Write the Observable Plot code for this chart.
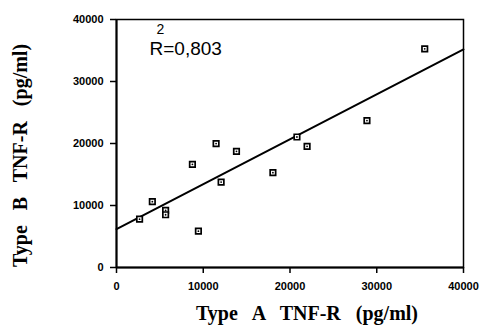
<!DOCTYPE html>
<html>
<head>
<meta charset="utf-8">
<script src="https://cdn.jsdelivr.net/npm/d3@7"></script>
<script src="https://cdn.jsdelivr.net/npm/@observablehq/plot@0.6"></script>
<style>
  html, body { margin: 0; padding: 0; background: #fff; }
  #chart svg { display: block; }
</style>
</head>
<body>
<div id="chart"></div>
<script>
// Data
const typeA = [2660, 4130, 5660, 5660, 8750, 9440, 11480, 12060, 13830, 18030, 20800, 21970, 28870, 35530];
const typeB = [7800, 10610, 9200, 8510, 16640, 5860, 19980, 13780, 18740, 15300, 21050, 19550, 23700, 35270];
const fitX = [0, 40000];
const fitY = [6190, 35170];
const xTicks = [0, 10000, 20000, 30000, 40000];
const yTicks = [0, 10000, 20000, 30000, 40000];
const rSquared = "0,803";
const xTitle = "Type   A   TNF-R   (pg/ml)";
const yTitle = "Type   B   TNF-R   (pg/ml)";

const points = typeA.map((a, i) => ({a, b: typeB[i]}));
const fit = fitX.map((x, i) => ({x, y: fitY[i]}));

const serif = "'Liberation Serif', 'DejaVu Serif', serif";
const sans = "'Liberation Sans', Arial, sans-serif";

const chart = Plot.plot({
  width: 488,
  height: 336,
  marginLeft: 116,
  marginRight: 25,
  marginTop: 19,
  marginBottom: 69,
  style: {background: "#fff", color: "#000", fontFamily: sans},
  x: {domain: [0, 40000], ticks: xTicks, tickFormat: d3.format("d"), label: null},
  y: {domain: [0, 40000], ticks: yTicks, tickFormat: d3.format("d"), label: null},
  marks: [
    Plot.frame({stroke: "#000", strokeWidth: 1.5}),
    Plot.axisX({ticks: xTicks, tickFormat: d3.format("d"), tickSize: 6, tickPadding: 9, strokeWidth: 1.5,
      fontSize: 11, fontWeight: "bold", letterSpacing: 2.2, label: null}),
    Plot.axisY({ticks: yTicks, tickFormat: d3.format("d"), tickSize: 6, tickPadding: 7, strokeWidth: 1.5,
      fontSize: 11, fontWeight: "bold", letterSpacing: 2.2, label: null}),
    Plot.ruleX([0], {stroke: "#000", strokeWidth: 2}),
    Plot.ruleY([0], {stroke: "#000", strokeWidth: 2}),
    Plot.line(fit, {x: "x", y: "y", stroke: "#000", strokeWidth: 2}),
    Plot.dot(points, {x: "a", y: "b", symbol: "square", r: 3.1, stroke: "#000", strokeWidth: 1.7, fill: "#fff"}),
    Plot.dot(points, {x: "a", y: "b", r: 0.9, fill: "#000", stroke: null}),
    Plot.text([rSquared], {text: d => "R=" + d, frameAnchor: "top-left", dx: 33, dy: 22, textAnchor: "start",
      fontSize: 19, fontFamily: sans, fill: "#000"}),
    Plot.text(["2"], {text: d => d, frameAnchor: "top-left", dx: 44, dy: 5, textAnchor: "middle",
      fontSize: 14, fontFamily: sans, fill: "#000"}),
    Plot.text([xTitle], {text: d => d, frameAnchor: "bottom", dx: 17, dy: 52, fontSize: 20, fontWeight: "bold",
      fontFamily: serif, fill: "#000", whiteSpace: "pre"}),
    Plot.text([yTitle], {text: d => d, frameAnchor: "left", textAnchor: "middle", dx: -96, dy: 12, rotate: -90,
      fontSize: 20, fontWeight: "bold", fontFamily: serif, fill: "#000", whiteSpace: "pre"})
  ]
});
document.getElementById("chart").appendChild(chart);
</script>
</body>
</html>
